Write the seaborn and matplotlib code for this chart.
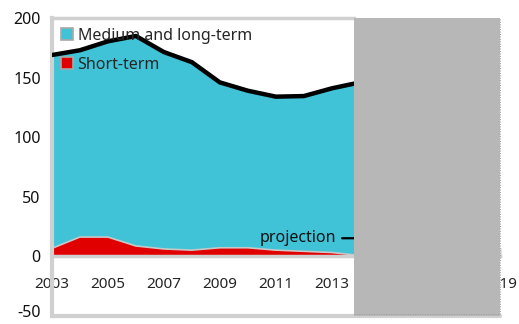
import matplotlib
matplotlib.use("Agg")
import matplotlib.pyplot as plt
import seaborn as sns
import numpy as np
import pandas as pd

# External debt by maturity, % (projection shaded from late 2013 on)
years = [2003, 2004, 2005, 2006, 2007, 2008, 2009, 2010, 2011, 2012, 2013, 2014]
short_term = [6.5, 16, 16, 8.5, 6, 5, 7, 7, 5, 4, 3, 0.5]
medium_long = [162.5, 157, 164.5, 176.5, 165.5, 158, 139, 132, 129, 130.5, 138, 145.5]
projection_start = 2013.8
x_ticks = [2003, 2005, 2007, 2009, 2011, 2013, 2015, 2017, 2019]
y_ticks = [-50, 0, 50, 100, 150, 200]

df = pd.DataFrame({"year": years, "short": short_term, "medium": medium_long})
df["total"] = df["short"] + df["medium"]

sns.set_theme(style="white")
plt.rcParams["font.family"] = ["Noto Sans", "DejaVu Sans"]

CYAN = "#40c2d7"
RED = "#e00000"
FRAME = "#d0d0d0"
SHADE = "#b7b7b7"
FS = 11.5
YPAD = 8

fig = plt.figure(figsize=(5.19, 3.24), dpi=100)
ax = fig.add_axes([0.100, 0.026, 0.863, 0.918])

ax.stackplot(df["year"], df["short"], df["medium"],
             colors=[RED, CYAN], labels=["Short-term", "Medium and long-term"],
             edgecolor="none", zorder=1)
# light outline along the top of the short-term band
ax.plot(df["year"], df["short"], color="#c8c8c8", lw=1.2, zorder=1.5)
sns.lineplot(data=df, x="year", y="total", color="black", lw=3.2, ax=ax,
             zorder=3, legend=False)

ax.set_xlim(2003, 2019)
ax.set_ylim(-50, 200)
ax.set_xticks(x_ticks)
ax.set_xticklabels([str(v) for v in x_ticks], fontsize=FS, color="#111111")
ax.set_yticks(y_ticks)
# the lowest label is placed by hand a little higher so it stays on the canvas
ax.set_yticklabels([""] + [str(v) for v in y_ticks[1:]], fontsize=FS,
                   color="#111111")
ax.annotate(str(y_ticks[0]), xy=(0, y_ticks[0]),
            xycoords=("axes fraction", "data"), xytext=(-YPAD, 3.5),
            textcoords="offset points", ha="right", va="center_baseline",
            fontsize=FS, color="#111111", annotation_clip=False)
ax.set_xlabel("")
ax.set_ylabel("")

# x axis sits on the zero line, ticks pointing inward
ax.spines["bottom"].set_position(("data", 0))
ax.spines["bottom"].set_color(FRAME)
ax.spines["bottom"].set_linewidth(2.5)
ax.spines["left"].set_color(FRAME)
ax.spines["left"].set_linewidth(3)
ax.spines["top"].set_color(FRAME)
ax.spines["top"].set_linewidth(2.5)
ax.spines["top"].set_bounds(2003, projection_start)
ax.spines["right"].set_visible(False)
ax.tick_params(axis="x", direction="in", length=6, width=2, color="#e0e0e0",
               pad=15, bottom=True)
ax.tick_params(axis="y", direction="in", length=5, width=2, color=FRAME,
               pad=YPAD, left=True)
ax.axhline(-50, color=FRAME, lw=3, clip_on=False, zorder=2)

# projection shading covers the later years and their labels
ax.axvspan(projection_start, 2019, color=SHADE, lw=0, zorder=10)
ax.plot([2019, 2019], [-49, 200], color="#9a9a9a", lw=0.7, ls=(0, (1, 1.5)),
        zorder=11, clip_on=False)
ax.plot([projection_start, 2019], [-49, -49], color="#9a9a9a", lw=0.7,
        ls=(0, (1, 1.5)), zorder=11, clip_on=False)

ax.annotate("projection", xy=(projection_start, 15), xytext=(2013.15, 15),
            fontsize=FS, color="#111111", ha="right", va="center",
            arrowprops=dict(arrowstyle="-", color="black", lw=1.6,
                            shrinkA=2, shrinkB=0), zorder=5)

handles, labels = ax.get_legend_handles_labels()
order = [1, 0]
leg = ax.legend([handles[i] for i in order], [labels[i] for i in order],
                loc="upper left", bbox_to_anchor=(-0.005, 1.005), frameon=False,
                fontsize=FS, handlelength=0.75, handleheight=0.75,
                handletextpad=0.3, labelspacing=0.8, borderaxespad=0.3)
for h in leg.legend_handles:
    h.set_edgecolor("#a8a8a8")
    h.set_linewidth(1.2)
leg.set_zorder(4)

fig.savefig("out.png", dpi=100)
